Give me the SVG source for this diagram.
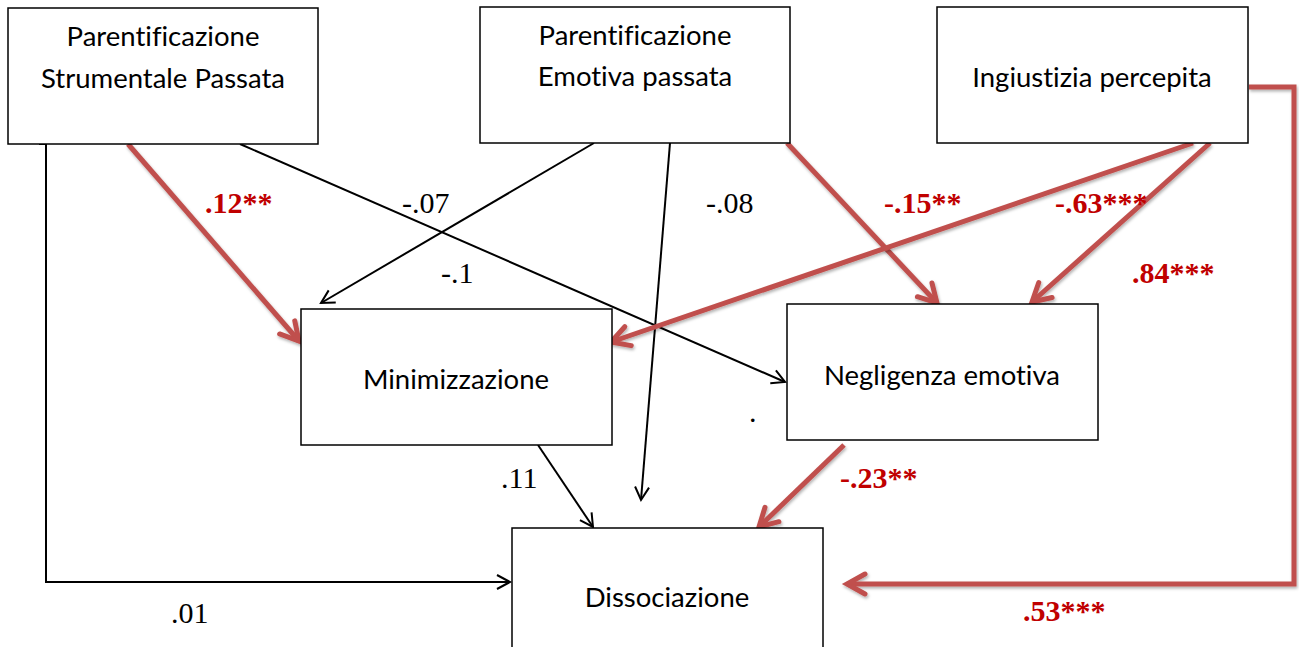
<svg xmlns="http://www.w3.org/2000/svg" width="1299" height="647" viewBox="0 0 1299 647">
  <style>
    .box { fill: #ffffff; stroke: #000000; stroke-width: 1.5; }
    .node-text { font-family: Lato, "Open Sans", sans-serif; font-size: 27.5px; fill: #000000; text-anchor: middle; font-variant-ligatures: none; }
    .black { fill: none; stroke: #000000; stroke-width: 2; marker-end: url(#arrow-black); }
    .red { fill: none; stroke: #C0504D; stroke-width: 5; marker-end: url(#arrow-red); filter: url(#soft-shadow); }
    .coef { font-family: "Liberation Serif", "Times New Roman", serif; font-size: 30px; fill: #000000; }
    .coef-sig { font-family: "Liberation Serif", "Times New Roman", serif; font-size: 30px; font-weight: bold; fill: #C00000; }
  </style>
  <defs>
    <marker id="arrow-black" markerUnits="userSpaceOnUse" markerWidth="16" markerHeight="16" refX="14" refY="7" orient="auto" overflow="visible">
      <path d="M1,0 L14,7 L1,14" fill="none" stroke="#000000" stroke-width="2"/>
    </marker>
    <marker id="arrow-red" markerUnits="userSpaceOnUse" markerWidth="24" markerHeight="24" refX="20" refY="10" orient="auto" overflow="visible">
      <path d="M2,0 L20,10 L2,20" fill="none" stroke="#C0504D" stroke-width="5" stroke-linecap="round"/>
    </marker>
    <filter id="soft-shadow" x="-10%" y="-10%" width="120%" height="120%">
      <feDropShadow dx="1" dy="2" stdDeviation="1.5" flood-color="#000000" flood-opacity="0.3"/>
    </filter>
  </defs>

  <!-- paths between variables -->
  <g id="connectors">
    <!-- non-significant paths -->
    <path class="black" d="M39,144 H46 V582 H510" stroke-width="2.5"/>
    <path class="black" d="M240,144 L785,382"/>
    <path class="black" d="M594,143 L321,303"/>
    <path class="black" d="M670,143 L641,500"/>
    <path class="black" d="M538,445 L593,527"/>
    <!-- significant paths -->
    <path class="red" d="M128,144 L299,341"/>
    <path class="red" d="M787,143 L937,303"/>
    <path class="red" d="M1193,143 L611,342"/>
    <path class="red" d="M1210,143 L1032,302"/>
    <path class="red" d="M844,445 L759,527"/>
    <path class="red" d="M1249,87 H1294 V584 H847"/>
  </g>

  <g id="n-strumentale">
    <rect class="box" x="8" y="8" width="310" height="136"/>
    <text class="node-text" x="163" y="46">Parentificazione</text>
    <text class="node-text" x="163" y="88">Strumentale Passata</text>
  </g>
  <g id="n-emotiva">
    <rect class="box" x="480" y="7" width="310" height="136"/>
    <text class="node-text" x="635" y="45">Parentificazione</text>
    <text class="node-text" x="635" y="86">Emotiva passata</text>
  </g>
  <g id="n-ingiustizia">
    <rect class="box" x="937" y="7" width="311" height="136"/>
    <text class="node-text" x="1092" y="87">Ingiustizia percepita</text>
  </g>
  <g id="n-minimizzazione">
    <rect class="box" x="301" y="309" width="311" height="136"/>
    <text class="node-text" x="456" y="389">Minimizzazione</text>
  </g>
  <g id="n-negligenza">
    <rect class="box" x="787" y="304" width="311" height="136"/>
    <text class="node-text" x="942" y="385">Negligenza emotiva</text>
  </g>
  <g id="n-dissociazione">
    <rect class="box" x="512" y="528" width="311" height="136"/>
    <text class="node-text" x="667" y="607">Dissociazione</text>
  </g>

  <!-- path coefficients -->
  <g id="coefficients">
    <text class="coef-sig" x="205" y="213">.12**</text>
    <text class="coef" x="402" y="213">-.07</text>
    <text class="coef" x="441" y="283">-.1</text>
    <text class="coef" x="706" y="213">-.08</text>
    <text class="coef-sig" x="884" y="213">-.15**</text>
    <text class="coef-sig" x="1055" y="213">-.63***</text>
    <text class="coef-sig" x="1132" y="283">.84***</text>
    <text class="coef" x="501" y="488">.11</text>
    <text class="coef-sig" x="840" y="488">-.23**</text>
    <text class="coef" x="171" y="623">.01</text>
    <text class="coef-sig" x="1023" y="621">.53***</text>
    <text class="coef" x="749" y="422" font-size="16">.</text>
  </g>
</svg>
